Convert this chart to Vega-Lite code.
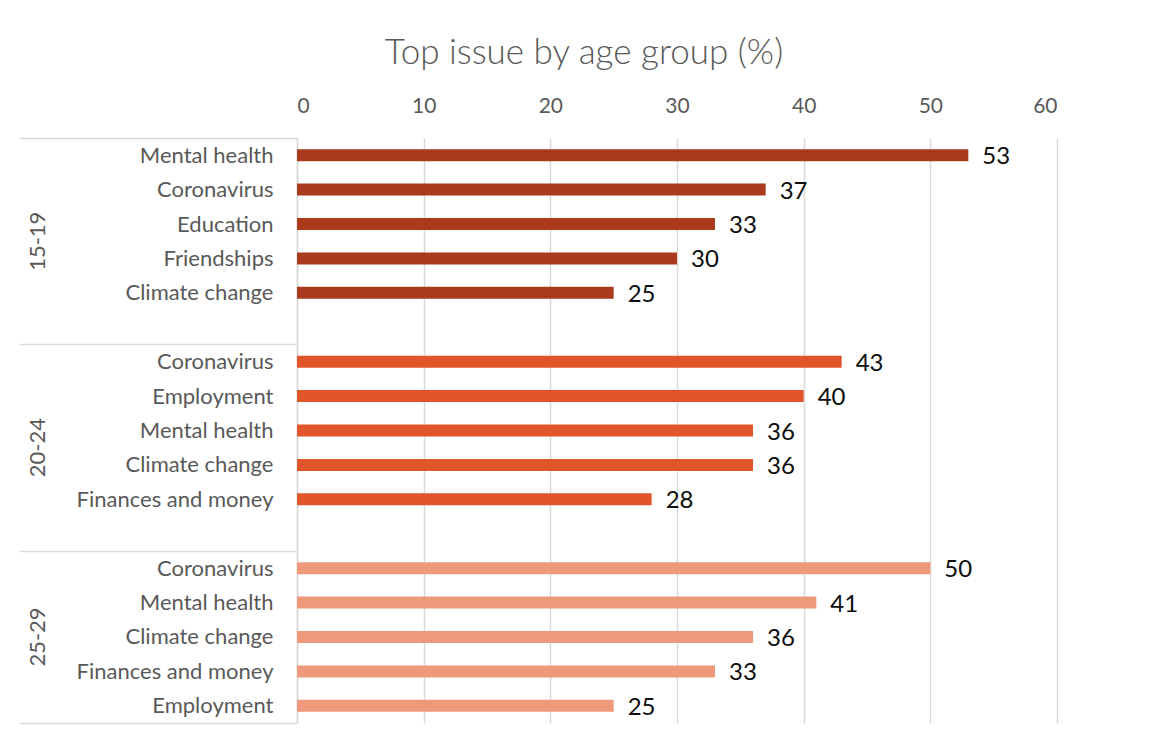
{
  "$schema": "https://vega.github.io/schema/vega-lite/v6.json",
  "width": 760,
  "height": 585,
  "autosize": "none",
  "padding": {"left": 297, "top": 138, "right": 97, "bottom": 26},
  "background": "white",
  "config": {"view": {"stroke": null}},
  "title": {
    "text": "Top issue by age group (%)",
    "font": "Lato",
    "fontSize": 35,
    "fontWeight": 300,
    "color": "#595959",
    "anchor": "middle",
    "frame": "group",
    "dx": -93,
    "offset": 24
  },
  "data": {
    "values": [
      {"group": "15-19", "key": "15-19|Mental health", "value": 53},
      {"group": "15-19", "key": "15-19|Coronavirus", "value": 37},
      {"group": "15-19", "key": "15-19|Education", "value": 33},
      {"group": "15-19", "key": "15-19|Friendships", "value": 30},
      {"group": "15-19", "key": "15-19|Climate change", "value": 25},
      {"group": "20-24", "key": "20-24|Coronavirus ", "value": 43},
      {"group": "20-24", "key": "20-24|Employment", "value": 40},
      {"group": "20-24", "key": "20-24|Mental health", "value": 36},
      {"group": "20-24", "key": "20-24|Climate change", "value": 36},
      {"group": "20-24", "key": "20-24|Finances and money", "value": 28},
      {"group": "25-29", "key": "25-29|Coronavirus", "value": 50},
      {"group": "25-29", "key": "25-29|Mental health", "value": 41},
      {"group": "25-29", "key": "25-29|Climate change ", "value": 36},
      {"group": "25-29", "key": "25-29|Finances and money", "value": 33},
      {"group": "25-29", "key": "25-29|Employment", "value": 25}
    ]
  },
  "layer": [
    {
      "mark": {"type": "bar", "size": 12},
      "encoding": {
        "x": {
          "field": "value",
          "type": "quantitative",
          "scale": {"domain": [0, 60], "nice": false, "zero": true},
          "axis": {
            "orient": "top",
            "values": [0, 10, 20, 30, 40, 50, 60],
            "title": null,
            "domain": false,
            "ticks": false,
            "grid": true,
            "gridColor": "#D9D9D9",
            "gridWidth": 1.5,
            "labelPadding": 22,
            "labelFont": "Lato",
            "labelFontSize": 21,
            "labelColor": "#595959"
          }
        },
        "y": {
          "field": "key",
          "type": "nominal",
          "scale": {
            "domain": ["15-19|Mental health", "15-19|Coronavirus", "15-19|Education", "15-19|Friendships", "15-19|Climate change", "gap1", "20-24|Coronavirus ", "20-24|Employment", "20-24|Mental health", "20-24|Climate change", "20-24|Finances and money", "gap2", "25-29|Coronavirus", "25-29|Mental health", "25-29|Climate change ", "25-29|Finances and money", "25-29|Employment"],
            "paddingInner": 0,
            "paddingOuter": 0
          },
          "axis": {
            "orient": "left",
            "title": null,
            "grid": false,
            "domain": true,
            "domainColor": "#D9D9D9",
            "domainWidth": 1.5,
            "ticks": true,
            "tickBand": "extent",
            "tickSize": 278,
            "tickColor": "#D9D9D9",
            "tickWidth": 1.5,
            "tickOpacity": {
              "condition": {
                "test": "!isValid(datum.value) || datum.value === 'gap1' || datum.value === 'gap2' || datum.value === '25-29|Employment'",
                "value": 1
              },
              "value": 0
            },
            "labelPadding": -254,
            "labelLimit": 0,
            "labelExpr": "isString(datum.value) && indexof(datum.value, '|') >= 0 ? split(datum.value, '|')[1] : ''",
            "labelFont": "Lato",
            "labelFontSize": 22,
            "labelColor": "#595959"
          }
        },
        "color": {
          "field": "group",
          "type": "nominal",
          "scale": {"domain": ["15-19", "20-24", "25-29"], "range": ["#A93A1C", "#E1552B", "#EE997C"]},
          "legend": null
        }
      }
    },
    {
      "mark": {"type": "text", "align": "left", "baseline": "middle", "dx": 14, "dy": 2, "font": "Lato", "fontSize": 24, "color": "#0D0D0D"},
      "encoding": {
        "x": {"field": "value", "type": "quantitative", "scale": {"domain": [0, 60], "nice": false, "zero": true}},
        "y": {
          "field": "key",
          "type": "nominal",
          "scale": {
            "domain": ["15-19|Mental health", "15-19|Coronavirus", "15-19|Education", "15-19|Friendships", "15-19|Climate change", "gap1", "20-24|Coronavirus ", "20-24|Employment", "20-24|Mental health", "20-24|Climate change", "20-24|Finances and money", "gap2", "25-29|Coronavirus", "25-29|Mental health", "25-29|Climate change ", "25-29|Finances and money", "25-29|Employment"],
            "paddingInner": 0,
            "paddingOuter": 0
          },
          "axis": {
            "orient": "left",
            "title": null,
            "grid": false,
            "domain": false,
            "ticks": false,
            "values": ["15-19|Education", "20-24|Mental health", "25-29|Climate change "],
            "labelAngle": -90,
            "labelAlign": "center",
            "labelBaseline": "middle",
            "labelPadding": 260,
            "labelOffset": {
              "condition": {"test": "isString(datum.value) && indexof(datum.value, '25-29') === 0", "value": 0},
              "value": 17.2
            },
            "labelExpr": "split(datum.value, '|')[0]",
            "labelFont": "Lato",
            "labelFontSize": 22,
            "labelColor": "#595959"
          }
        },
        "text": {"field": "value", "type": "quantitative"}
      }
    }
  ],
  "resolve": {"axis": {"y": "independent"}}
}
